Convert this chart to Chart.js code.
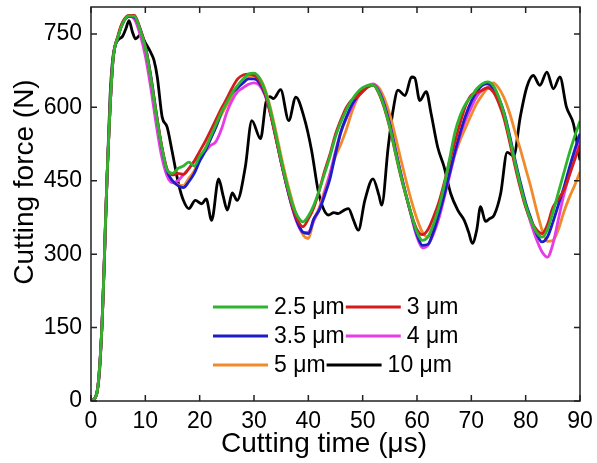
<!DOCTYPE html>
<html>
<head>
<meta charset="utf-8">
<title>Cutting force</title>
<script src="https://cdn.jsdelivr.net/npm/chart.js"></script>
<style>
  html, body { margin: 0; padding: 0; background: #fff; }
  #wrap { width: 597px; height: 463px; }
</style>
</head>
<body>
<div id="wrap"><canvas id="forceChart" width="597" height="463"></canvas></div>
<script>
// Cutting time (us), shared by the five coloured curves
var time = [0,1,2,3,4,5,6,7,8,9,10,11,12,13,14,15,16,17,18,19,20,21,22,23,24,25,26,27,28,29,
  30,31,32,33,34,35,36,37,38,39,40,41,42,43,44,45,46,47,48,49,50,51,52,53,54,55,56,57,58,59,
  60,61,62,63,64,65,66,67,68,69,70,71,72,73,74,75,76,77,78,79,80,81,82,83,84,85,86,87,88,89,90];

var force25 = [0,12,150,470,690,745,775,787,786,760,722,660,585,520,472,465,475,480,488,480,
  500,515,540,565,590,610,630,645,658,668,670,660,635,595,545,492,445,405,378,366,
  378,400,430,465,500,540,570,595,615,630,640,645,645,630,600,560,510,462,420,380,
  345,328,335,360,395,440,495,550,585,608,622,638,648,652,645,622,588,540,490,442,
  400,368,345,335,350,385,425,465,505,540,572];
var force3 = [0,12,150,470,690,748,778,788,788,762,724,662,588,522,474,462,465,463,475,490,
  510,530,552,575,598,618,640,658,666,668,665,655,630,588,538,488,442,400,370,356,
  372,395,430,470,505,545,575,600,615,622,632,642,645,628,598,558,508,460,418,380,
  350,340,350,375,405,445,490,530,570,605,625,630,635,640,632,610,578,532,482,436,
  396,368,350,342,360,395,412,430,460,492,522];
var force35 = [0,12,150,470,690,745,775,786,784,762,725,665,590,520,470,450,440,436,448,465,
  490,510,535,560,590,615,630,640,650,658,658,650,628,590,540,488,440,398,365,345,
  342,372,390,420,455,505,550,580,605,622,635,643,645,632,604,565,515,465,420,378,
  340,318,320,345,380,420,465,510,550,585,612,632,645,648,640,620,590,545,495,448,
  405,372,342,325,335,365,400,435,475,512,546];
var force4 = [0,12,150,470,690,745,776,786,780,750,705,640,565,500,460,446,450,462,475,490,
  500,510,522,530,555,590,615,632,640,647,650,645,625,588,540,488,440,396,362,344,
  345,368,392,425,465,510,550,578,600,620,635,645,648,635,606,566,516,466,420,375,
  335,313,318,340,372,415,460,505,545,575,600,622,635,640,640,620,585,538,488,440,
  398,362,330,305,294,320,370,420,460,498,530];
var force5 = [0,12,150,470,690,745,776,787,782,755,712,650,575,510,465,448,442,440,455,470,
  495,515,538,560,585,605,625,643,655,663,665,660,638,600,552,500,452,410,370,340,
  332,370,395,430,465,500,525,555,590,618,632,642,646,640,618,585,542,495,450,408,
  372,345,335,350,380,430,475,505,535,560,585,608,625,640,650,640,620,590,552,515,
  475,435,390,350,326,328,350,385,415,440,468];

// 10 um curve is read at its own (uneven) times to keep its small wiggles
var time10 = [0,0.8,1.5,2,2.5,3,3.5,4,4.5,5,5.8,6.4,7,7.6,8.2,9.1,10.1,11,11.6,12.2,13.1,14,14.9,
  16.1,17,18,19.2,20.4,21.2,22.2,23.5,24.3,25.1,26,26.9,28.4,29.6,31.2,32.2,32.9,33.6,34.9,
  36.4,37.7,39.2,40.6,41.8,42.7,43.7,44.7,45.5,46.6,47.4,48.3,49.2,50.4,51.9,53,53.5,54.7,
  55.6,56.5,57.8,59,59.6,60.5,61.7,62.6,63.8,65,66.2,67.5,68.7,69.5,70.2,71,71.7,72.6,73.3,
  74.2,75.4,76.6,77.8,79,80.2,81.4,82.6,83.9,85.1,86.3,87.5,88.8,90];
var force10 = [0,8,50,150,300,470,620,700,728,738,745,760,777,755,740,748,730,712,696,662,580,560,512,
  444,410,393,410,403,413,369,454,420,390,425,410,478,573,536,610,622,618,636,
  573,621,580,512,430,395,380,385,383,390,393,370,349,410,454,420,400,519,
  594,635,624,662,660,614,632,587,519,478,424,390,369,345,322,350,397,367,372,
  380,424,508,501,580,641,665,645,672,638,662,601,566,492];

var seriesNames = ["2.5 μm", "3 μm", "3.5 μm", "4 μm", "5 μm", "10 μm"];
var seriesColors = ["#2db52d", "#d41c1c", "#1c1cc8", "#e63ce6", "#f08a2a", "#000000"];

var xTicks = [0,10,20,30,40,50,60,70,80,90];
var yTicks = [0,150,300,450,600,750];

var fontFamily = "'Liberation Sans', Arial, sans-serif";

function points(xs, ys) {
  return xs.map(function (x, i) { return { x: x, y: ys[i] }; });
}

var allSeries = [
  points(time, force25),
  points(time, force3),
  points(time, force35),
  points(time, force4),
  points(time, force5),
  points(time10, force10)
];

var datasets = allSeries.map(function (d, i) {
  return {
    label: seriesNames[i],
    data: d,
    borderColor: seriesColors[i],
    backgroundColor: seriesColors[i],
    borderWidth: 2.8,
    pointRadius: 0,
    fill: false,
    cubicInterpolationMode: "monotone"
  };
});

// frame, inward ticks, axis titles and the legend inside the plot
var framePlugin = {
  id: "frame",
  afterDraw: function (chart) {
    var c = chart.ctx;
    var a = chart.chartArea;
    var xs = chart.scales.x;
    var ys = chart.scales.y;
    c.save();
    c.strokeStyle = "#222";
    c.lineWidth = 1.5;
    c.strokeRect(a.left, a.top, a.right - a.left, a.bottom - a.top);
    c.beginPath();
    xTicks.forEach(function (v) {
      var px = xs.getPixelForValue(v);
      c.moveTo(px, a.bottom); c.lineTo(px, a.bottom - 6);
      c.moveTo(px, a.top); c.lineTo(px, a.top + 6);
    });
    yTicks.forEach(function (v) {
      var py = ys.getPixelForValue(v);
      c.moveTo(a.left, py); c.lineTo(a.left + 6, py);
      c.moveTo(a.right, py); c.lineTo(a.right - 6, py);
    });
    c.stroke();

    c.fillStyle = "#000";
    c.font = "28px " + fontFamily;
    c.textAlign = "center";
    c.textBaseline = "middle";
    c.fillText("Cutting time (μs)", 324, 444);
    c.save();
    c.translate(25, 182);
    c.rotate(-Math.PI / 2);
    c.fillText("Cutting force (N)", 0, 0);
    c.restore();

    // legend: two items per row, packed left to right
    c.font = "23px " + fontFamily;
    c.textAlign = "left";
    var rowsY = [307, 336, 365];
    var lx = 213;
    chart.data.datasets.forEach(function (ds, i) {
      var row = Math.floor(i / 2);
      if (i % 2 === 0) lx = 213;
      var y0 = rowsY[row];
      c.strokeStyle = ds.borderColor;
      c.lineWidth = 3;
      c.beginPath();
      c.moveTo(lx, y0); c.lineTo(lx + 55, y0);
      c.stroke();
      c.fillStyle = "#000";
      c.fillText(ds.label, lx + 61, y0 + 1);
      lx = lx + 61 + c.measureText(ds.label).width + 1;
    });
    c.restore();
  }
};

new Chart(document.getElementById("forceChart"), {
  type: "line",
  data: { datasets: datasets },
  options: {
    responsive: false,
    animation: false,
    layout: { padding: { top: 7, right: 17, left: 0, bottom: 0 } },
    plugins: { legend: { display: false }, tooltip: { enabled: false } },
    scales: {
      x: {
        type: "linear",
        min: 0,
        max: 90,
        afterBuildTicks: function (s) { s.ticks = xTicks.map(function (v) { return { value: v }; }); },
        afterFit: function (s) { s.height = 62; s.paddingLeft = 0; s.paddingRight = 0; },
        grid: { display: false, drawTicks: false },
        border: { display: false },
        ticks: { padding: 7, color: "#000", maxRotation: 0, autoSkip: false, font: { family: fontFamily, size: 23 } }
      },
      y: {
        type: "linear",
        min: 0,
        max: 805,
        afterBuildTicks: function (s) { s.ticks = yTicks.map(function (v) { return { value: v }; }); },
        afterFit: function (s) { s.width = 91; s.paddingTop = 0; s.paddingBottom = 0; },
        grid: { display: false, drawTicks: false },
        border: { display: false },
        ticks: { padding: 9, color: "#000", autoSkip: false, font: { family: fontFamily, size: 23 } }
      }
    }
  },
  plugins: [framePlugin]
});
</script>
</body>
</html>
